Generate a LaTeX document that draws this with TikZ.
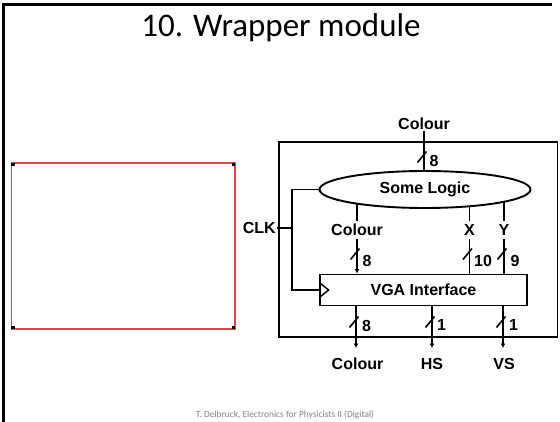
\documentclass[tikz,border=0pt]{standalone}
\usepackage{fontspec}
\setmainfont{Liberation Sans}
\newfontfamily\titlefont{Carlito}
\usetikzlibrary{shapes.geometric,arrows.meta,calc,backgrounds}
\definecolor{selred}{RGB}{205,75,75}
\definecolor{footgray}{RGB}{130,130,130}
\tikzset{
  wire/.style={line width=1.9pt},
  blk/.style={draw, line width=1.9pt},
  lbl/.style={font=\fontsize{16}{18}\selectfont\bfseries, inner sep=1pt},
  wlbl/.style={lbl, fill=white, inner sep=3pt},
  arrowend/.style={-{Latex[length=4.5pt,width=5pt]}},
  busslash/.pic={\draw[line width=1.6pt] (-6.5,5.5) -- (2.5,-5.5);}
}
\begin{document}
\begin{tikzpicture}[x=1pt,y=-1pt]
\useasboundingbox (0,0) rectangle (560,422);
% slide frame
\draw[line width=2.5pt] (3.5,422) -- (3.5,4.5) -- (552,4.5);
% title and footer
\node[font=\titlefont\fontsize{33}{36}\selectfont, anchor=base, inner sep=0pt] (title) at (281,37) {10. Wrapper module};
\node[font=\titlefont\fontsize{9.4}{11}\selectfont, text=footgray, anchor=base, inner sep=0pt] (foot) at (285,417) {T. Delbruck, Electronics for Physicists II (Digital)};
% empty selection rectangle
\draw[selred, line width=1.2pt] (11.5,163) rectangle (235,329);
\foreach \p in {(13,164.5),(233.5,164.5),(13,327.5),(233.5,327.5)}
  \fill \p ++(-1.7,-1.7) rectangle ++(3.4,3.4);
% diagram
\node[blk, minimum width=278.5pt, minimum height=195pt, inner sep=0pt] (outer) at (418.25,239.5) {};
\node[blk, ellipse, fill=white, minimum width=211pt, minimum height=37pt, lbl, inner sep=0pt] (logic) at (425,189.5) {Some Logic};
\node[blk, rectangle, fill=white, minimum width=207pt, minimum height=31pt, lbl, inner sep=0pt] (vga) at (423.5,290) {VGA Interface};
% top input
\node[lbl] (ctop) at (424,124) {Colour};
\draw[wire] (ctop.south) -- (ctop.south |- logic.north);
\pic at (424,157) {busslash};
\node[lbl] (ntop) at (434,161) {8};
% inner buses
\node[wlbl] (cin) at (357,230) {Colour};
\node[wlbl] (xl) at (469.5,230) {X};
\node[wlbl] (yl) at (504,230) {Y};
\begin{scope}[on background layer]
  \draw[wire, arrowend] (logic.center -| cin) -- (cin |- vga.north);
  \draw[wire] (logic.center -| xl) -- (xl |- vga.north);
  \draw[wire] (logic.center -| yl) -- (yl |- vga.north);
\end{scope}
\pic at (357,254) {busslash};
\pic at (469.5,254) {busslash};
\pic at (504,254) {busslash};
\node[lbl] (n1) at (367,261) {8};
\node[lbl] (n2) at (483,261) {10};
\node[lbl] (n3) at (515,261) {9};
% clock
\node[lbl, anchor=east] (clk) at (277,228) {CLK};
\coordinate (j) at (292,228);
\draw[wire] (clk.east) -- (j);
\draw[wire] (logic.west) -| (j |- vga.west) -- (vga.west);
\draw[line width=1.5pt, line join=miter] ($(vga.west)+(0.9,-7)$) -- ($(vga.west)+(9.5,0)$) -- ($(vga.west)+(0.9,7)$);
% outputs
\coordinate (w1) at (356,348);
\coordinate (w2) at (432,348);
\coordinate (w3) at (503,348);
\draw[wire, arrowend] (vga.south -| w1) -- (w1);
\draw[wire, arrowend] (vga.south -| w2) -- (w2);
\draw[wire, arrowend] (vga.south -| w3) -- (w3);
\pic at (356,322) {busslash};
\pic at (432,322) {busslash};
\pic at (503,322) {busslash};
\node[lbl] (o1) at (366.5,325.5) {8};
\node[lbl] (o2) at (441.5,325) {1};
\node[lbl] (o3) at (513.5,325) {1};
\node[lbl] (oc) at (357.5,364) {Colour};
\node[lbl] (ohs) at (432,364) {HS};
\node[lbl] (ovs) at (504,364) {VS};
\end{tikzpicture}
\end{document}
